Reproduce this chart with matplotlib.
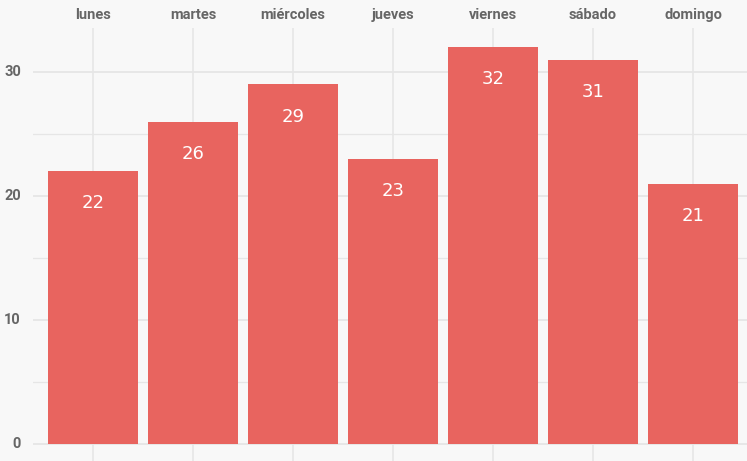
import matplotlib.pyplot as plt
import numpy as np

dias = ['lunes', 'martes', 'miércoles', 'jueves', 'viernes', 'sábado', 'domingo']
valores = [22, 26, 29, 23, 32, 31, 21]
y_ticks = [0, 10, 20, 30]

plt.rcParams['font.family'] = ['Roboto', 'DejaVu Sans']

fig = plt.figure(figsize=(7.47, 4.61), dpi=100)
fig.patch.set_facecolor('#f8f8f8')
# ejes: 33..747 px en x, 28..461 px en y
ax = fig.add_axes([33 / 747, 0, 714 / 747, 433 / 461])
ax.set_facecolor('none')

x = np.arange(len(dias))
ax.set_xlim(-0.6, 6.54)
ax.set_ylim(-1.37, 33.55)

# rejilla
for v in np.arange(0, 35, 5):
    lw = 1.3 if v % 10 == 0 else 0.9
    ax.axhline(v, color='#e6e6e6', lw=lw, zorder=0)
ax.vlines(x, -1.37, 33.55, color='#e6e6e6', lw=1.2, zorder=0)

bars = ax.bar(x, valores, width=0.9, color='#e8645f', zorder=2)
for xi, v in zip(x, valores):
    ax.text(xi, v - 2.6, str(v), ha='center', va='center', color='white',
            fontsize=13, family=['DejaVu Sans'], zorder=3)

for s in ax.spines.values():
    s.set_visible(False)
ax.set_xticks([])
ax.set_yticks([])

for xi, d in zip(x, dias):
    ax.text(xi, 34.6, d, ha='center', va='center', color='#666666',
            fontsize=10.5, fontweight='bold', clip_on=False)
for t in y_ticks:
    ax.text(-0.72, t, str(t), ha='right', va='center', color='#666666',
            fontsize=10.5, fontweight='bold', clip_on=False)

fig.savefig('out.png', dpi=100, facecolor=fig.get_facecolor())
